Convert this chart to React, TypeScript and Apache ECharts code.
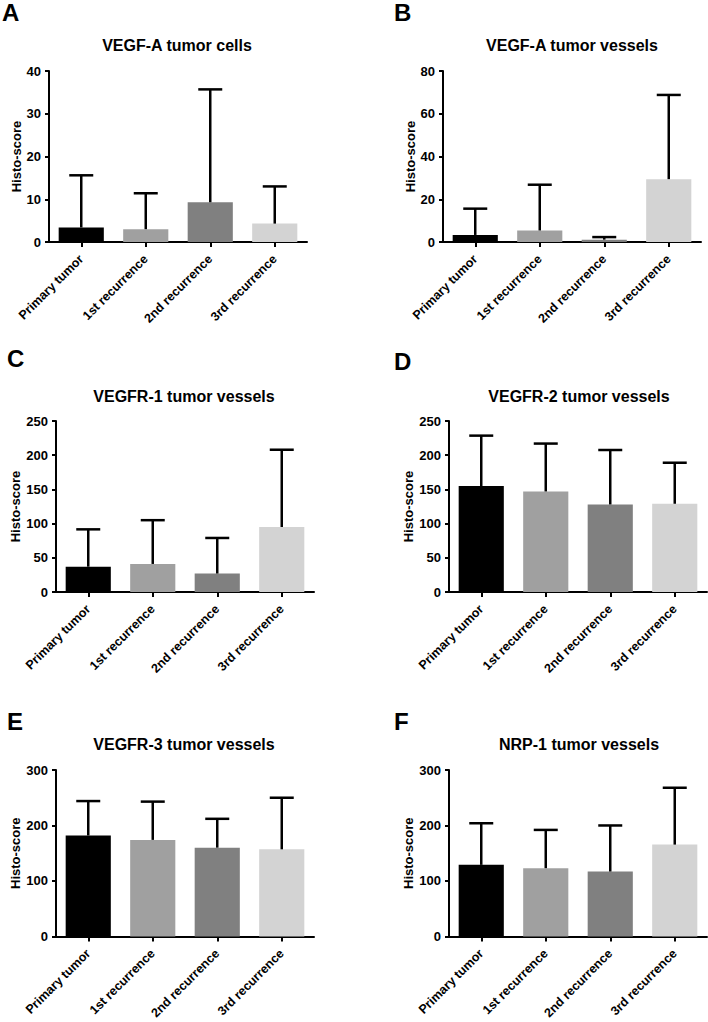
import React, { useEffect, useRef } from "react";
import * as echarts from "echarts";

const categories = ["Primary tumor", "1st recurrence", "2nd recurrence", "3rd recurrence"];
const barColors = ["#000000", "#a0a0a0", "#808080", "#d3d3d3"];

const panelLetters = ["A", "B", "C", "D", "E", "F"];
const panelTitles = [
  "VEGF-A tumor cells",
  "VEGF-A tumor vessels",
  "VEGFR-1 tumor vessels",
  "VEGFR-2 tumor vessels",
  "VEGFR-3 tumor vessels",
  "NRP-1 tumor vessels",
];

// means and standard deviations (upper error bar)
const vegfaCellsMean = [3.4, 3.0, 9.3, 4.3];
const vegfaCellsSd = [12.2, 8.4, 26.4, 8.7];
const vegfaVesselsMean = [3.3, 5.4, 1.1, 29.4];
const vegfaVesselsSd = [12.3, 21.4, 1.2, 39.4];
const vegfr1Mean = [37, 41, 27, 95];
const vegfr1Sd = [54.6, 64, 52, 113];
const vegfr2Mean = [155, 147, 128, 129];
const vegfr2Sd = [73.6, 70, 79.6, 60];
const vegfr3Mean = [182, 174, 160, 157];
const vegfr3Sd = [62, 69, 52, 93];
const nrp1Mean = [129, 123, 117, 165.5];
const nrp1Sd = [75, 69, 83, 102.5];

// y-axis ticks: max and interval
const yMax = [40, 80, 250, 250, 300, 300];
const yInterval = [10, 20, 50, 50, 100, 100];

const means = [vegfaCellsMean, vegfaVesselsMean, vegfr1Mean, vegfr2Mean, vegfr3Mean, nrp1Mean];
const sds = [vegfaCellsSd, vegfaVesselsSd, vegfr1Sd, vegfr2Sd, vegfr3Sd, nrp1Sd];

// layout
const grids = [
  { left: 49, top: 71 },
  { left: 443, top: 71 },
  { left: 56, top: 421 },
  { left: 449, top: 421 },
  { left: 56, top: 770 },
  { left: 449, top: 770 },
];
const GRID_W = 258;
const GRID_H = 171;
const nameGaps = [26, 24, 32, 31, 32, 31];
const letterPos = [
  [2, 12.5],
  [394, 12.5],
  [7, 358],
  [394, 361],
  [7, 721],
  [394, 721],
];
const titlePos = [
  [177, 45],
  [572, 45],
  [184, 396],
  [579, 396],
  [184, 744],
  [579, 744],
];

const FONT = "'Liberation Sans', Arial, Helvetica, sans-serif";

export default function App() {
  const ref = useRef<HTMLDivElement>(null);

  useEffect(() => {
    if (!ref.current) return;
    const chart = echarts.init(ref.current, undefined, { renderer: "svg" });

    const gridOpts = grids.map((g) => ({
      left: g.left,
      top: g.top,
      width: GRID_W,
      height: GRID_H,
      containLabel: false,
    }));

    const xAxes = grids.map((_, i) => ({
      type: "category",
      gridIndex: i,
      data: categories,
      axisLine: { show: true, lineStyle: { color: "#000", width: 2 } },
      axisTick: { show: true, alignWithLabel: true, length: 5, lineStyle: { color: "#000", width: 2 } },
      axisLabel: {
        rotate: 45,
        interval: 0,
        margin: 15,
        color: "#000",
        fontFamily: FONT,
        fontWeight: "bold",
        fontSize: 12.5,
      },
      splitLine: { show: false },
    }));

    const yAxes = grids.map((_, i) => ({
      type: "value",
      gridIndex: i,
      min: 0,
      max: yMax[i],
      interval: yInterval[i],
      name: "Histo-score",
      nameLocation: "middle",
      nameRotate: 90,
      nameGap: nameGaps[i],
      nameTextStyle: { color: "#000", fontFamily: FONT, fontWeight: "bold", fontSize: 13 },
      axisLine: { show: true, lineStyle: { color: "#000", width: 2 } },
      axisTick: { show: true, length: 4, lineStyle: { color: "#000", width: 2 } },
      axisLabel: { color: "#000", fontFamily: FONT, fontWeight: "bold", fontSize: 13, margin: 8 },
      splitLine: { show: false },
    }));

    const series: any[] = [];
    means.forEach((m, i) => {
      series.push({
        type: "bar",
        xAxisIndex: i,
        yAxisIndex: i,
        barWidth: "70%",
        data: m.map((v, k) => ({ value: v, itemStyle: { color: barColors[k] } })),
      });
      series.push({
        type: "custom",
        xAxisIndex: i,
        yAxisIndex: i,
        encode: { x: 0, y: [1, 2] },
        data: m.map((v, k) => [k, v, v + sds[i][k]]),
        renderItem: (params: any, api: any) => {
          const idx = api.value(0);
          const p0 = api.coord([idx, api.value(1)]);
          const p1 = api.coord([idx, api.value(2)]);
          const half = 12;
          const st = { stroke: "#000", lineWidth: 2.5 };
          return {
            type: "group",
            children: [
              { type: "line", shape: { x1: p0[0], y1: p0[1], x2: p1[0], y2: p1[1] }, style: st },
              { type: "line", shape: { x1: p1[0] - half, y1: p1[1], x2: p1[0] + half, y2: p1[1] }, style: st },
            ],
          };
        },
        z: 3,
      });
    });

    const graphics: any[] = [];
    panelLetters.forEach((l, i) => {
      graphics.push({
        type: "text",
        x: letterPos[i][0],
        y: letterPos[i][1],
        style: {
          text: l,
          fill: "#000",
          font: `bold 24px ${FONT}`,
          textAlign: "left",
          textVerticalAlign: "middle",
        },
      });
    });
    panelTitles.forEach((t, i) => {
      graphics.push({
        type: "text",
        x: titlePos[i][0],
        y: titlePos[i][1],
        style: {
          text: t,
          fill: "#000",
          font: `bold 16px ${FONT}`,
          textAlign: "center",
          textVerticalAlign: "middle",
        },
      });
    });

    chart.setOption({
      animation: false,
      backgroundColor: "#fff",
      grid: gridOpts,
      xAxis: xAxes,
      yAxis: yAxes,
      series,
      graphic: graphics,
    });

    return () => chart.dispose();
  }, []);

  return (
    <div
      ref={ref}
      style={{ position: "absolute", left: 0, top: 0, width: 708, height: 1022, background: "#fff" }}
    />
  );
}
